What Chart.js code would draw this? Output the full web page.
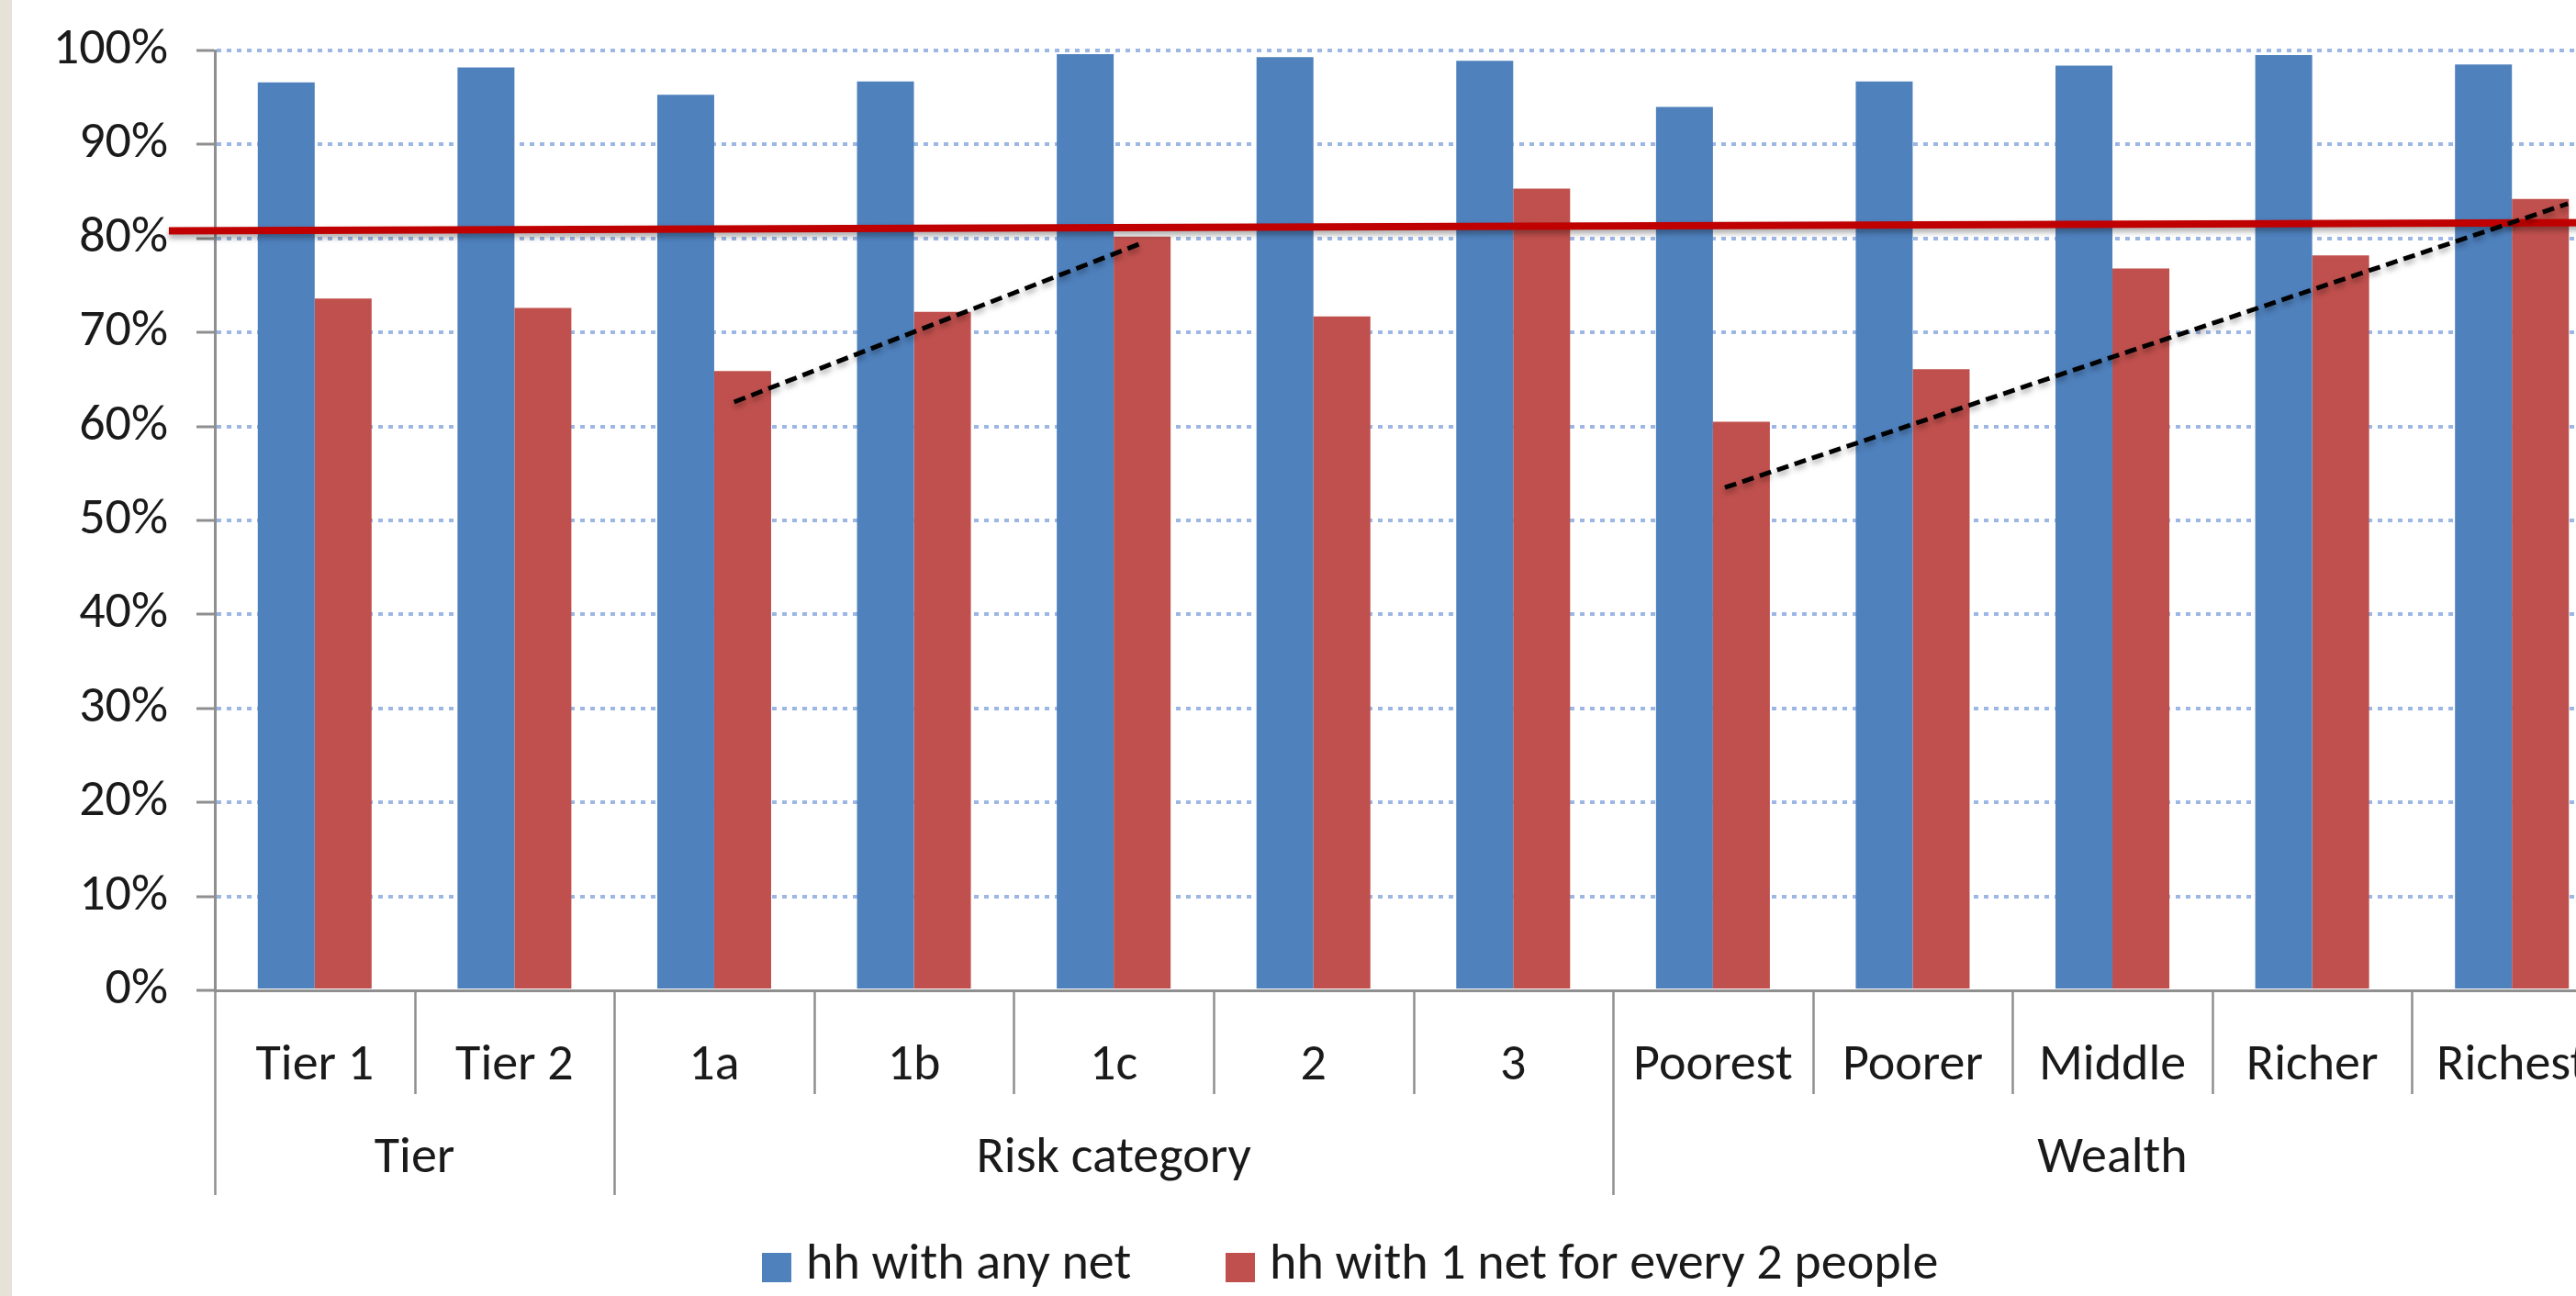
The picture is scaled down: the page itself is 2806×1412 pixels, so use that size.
<!DOCTYPE html>
<html>
<head>
<meta charset="utf-8">
<script src="https://cdn.jsdelivr.net/npm/chart.js@4.4.1/dist/chart.umd.min.js"></script>
<style>
	html, body { margin: 0; padding: 0; }
	body { width: 2806px; height: 1412px; overflow: hidden; background: #e6e2d8; position: relative; font-family: Calibri, Carlito, Lato, sans-serif; }
	#wrap { position: absolute; left: 13px; top: 0; width: 2832px; height: 1412px; background: #fff; }
	.leg { position: absolute; top: 1346px; font-size: 56px; line-height: 56px; color: #1a1a1a; white-space: nowrap; }
	.leg i { position: absolute; top: 19px; width: 32px; height: 32px; }
	.leg span { position: absolute; left: 48px; top: 0; }
</style>
</head>
<body>
<div id="wrap"><canvas id="netChart"></canvas></div>
<div class="leg" style="left:830px"><i style="background:#4f81bd"></i><span>hh with any net</span></div>
<div class="leg" style="left:1335px"><i style="background:#c0504d"></i><span>hh with 1 net for every 2 people</span></div>
<script>
const categories = ['Tier 1', 'Tier 2', '1a', '1b', '1c', '2', '3', 'Poorest', 'Poorer', 'Middle', 'Richer', 'Richest'];
const groupNames = ['Tier', 'Risk category', 'Wealth'];
const groupSizes = [2, 5, 5];

const anyNet = [96.6, 98.2, 95.3, 96.7, 99.6, 99.3, 98.9, 94.0, 96.7, 98.4, 99.5, 98.5];
const netPerTwo = [73.6, 72.6, 65.9, 72.2, 80.2, 71.7, 85.3, 60.5, 66.1, 76.8, 78.2, 84.2];

// Hand-drawn lines, x in category units (0 = centre of the first category)
const targetLine = [{x: -0.73, y: 80.8}, {x: 11.5, y: 81.7}];
const trendRisk = [{x: 2.10, y: 62.6}, {x: 4.14, y: 79.5}];
const trendWealth = [{x: 7.06, y: 53.5}, {x: 11.28, y: 83.7}];

const axisGrey = '#8f8f8f';
const textColor = '#1a1a1a';
const fontFamily = 'Calibri, Carlito, Lato, sans-serif';

const overlays = [
	{ points: targetLine, color: '#c00000', width: 8, dash: [] },
	{ points: trendRisk, color: '#000', width: 5, dash: [13, 7] },
	{ points: trendWealth, color: '#000', width: 5, dash: [13, 7] }
];

// Target line and trend lines, placed through the chart's own scales
const overlayLines = {
	id: 'overlayLines',
	afterDatasetsDraw(chart) {
		const ctx = chart.ctx;
		const x = chart.scales.x;
		const y = chart.scales.y;
		overlays.forEach(function(o) {
			ctx.save();
			ctx.shadowColor = 'rgba(0, 0, 0, 0.35)';
			ctx.shadowBlur = 6;
			ctx.shadowOffsetY = 4;
			ctx.strokeStyle = o.color;
			ctx.lineWidth = o.width;
			ctx.setLineDash(o.dash);
			ctx.beginPath();
			o.points.forEach(function(p, i) {
				const px = x.getPixelForValue(p.x);
				const py = y.getPixelForValue(p.y);
				if (i === 0) { ctx.moveTo(px, py); } else { ctx.lineTo(px, py); }
			});
			ctx.stroke();
			ctx.restore();
		});
	}
};

// Group captions under the category labels, plus the separators
const groupAxis = {
	id: 'groupAxis',
	afterDraw(chart) {
		const ctx = chart.ctx;
		const x = chart.scales.x;
		const top = chart.chartArea.bottom;
		ctx.save();
		ctx.strokeStyle = axisGrey;
		ctx.lineWidth = 2.5;
		const bounds = [0];
		groupSizes.forEach(function(n) { bounds.push(bounds[bounds.length - 1] + n); });
		for (let i = 0; i <= categories.length; i++) {
			const px = Math.round(x.getPixelForValue(i - 0.5)) + 0.5;
			const long = bounds.indexOf(i) !== -1;
			ctx.beginPath();
			ctx.moveTo(px, top);
			ctx.lineTo(px, top + (long ? 223 : 113));
			ctx.stroke();
		}
		ctx.fillStyle = textColor;
		ctx.font = '56px ' + fontFamily;
		ctx.textAlign = 'center';
		ctx.textBaseline = 'middle';
		for (let g = 0; g < groupNames.length; g++) {
			const mid = (bounds[g] + bounds[g + 1] - 1) / 2;
			ctx.fillText(groupNames[g], x.getPixelForValue(mid), top + 184);
		}
		ctx.restore();
	}
};

const ctx = document.getElementById('netChart').getContext('2d');
new Chart(ctx, {
	type: 'bar',
	data: {
		labels: categories,
		datasets: [{
			label: 'hh with any net',
			data: anyNet,
			backgroundColor: '#4f81bd',
			categoryPercentage: 0.57,
			barPercentage: 1.0
		}, {
			label: 'hh with 1 net for every 2 people',
			data: netPerTwo,
			backgroundColor: '#c0504d',
			categoryPercentage: 0.57,
			barPercentage: 1.0
		}]
	},
	options: {
		responsive: true,
		maintainAspectRatio: false,
		animation: false,
		layout: { padding: { top: 55, right: 0, bottom: 0, left: 0 } },
		scales: {
			x: {
				type: 'category',
				offset: true,
				grid: { display: false },
				border: { display: true, color: axisGrey, width: 3 },
				ticks: {
					color: textColor,
					font: { family: fontFamily, size: 56 },
					padding: 41,
					maxRotation: 0,
					autoSkip: false
				},
				afterFit: function(scale) {
					scale.height = 333;
					scale.paddingLeft = 0;
					scale.paddingRight = 0;
				}
			},
			y: {
				min: 0,
				max: 100,
				ticks: {
					stepSize: 10,
					color: textColor,
					padding: 31,
					font: { family: fontFamily, size: 56 },
					callback: function(v) { return v + '%'; }
				},
				grid: {
					color: function(c) { return c.tick && c.tick.value === 0 ? 'rgba(0,0,0,0)' : 'rgba(140, 170, 225, 0.85)'; },
					lineWidth: 4,
					tickColor: axisGrey,
					tickLength: 20,
					tickWidth: 3
				},
				border: { display: true, color: axisGrey, width: 3, dash: [5, 6] },
				afterFit: function(scale) {
					scale.width = 221;
					scale.paddingTop = 0;
					scale.paddingBottom = 0;
				}
			}
		},
		plugins: {
			legend: { display: false },
			tooltip: { enabled: false }
		}
	},
	plugins: [overlayLines, groupAxis]
});
</script>
</body>
</html>
